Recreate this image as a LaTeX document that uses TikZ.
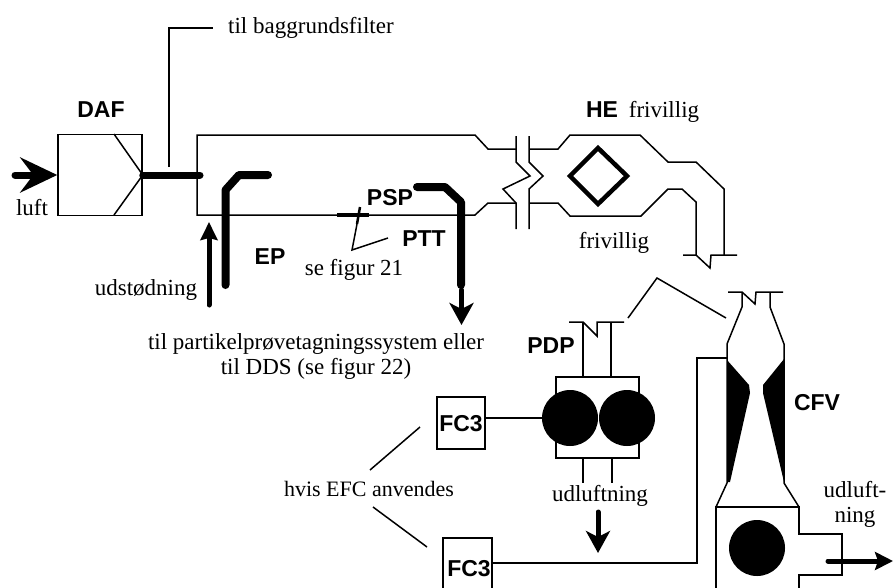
\documentclass[tikz,border=0pt]{standalone}
\usepackage{fontspec}
\setmainfont{Liberation Serif}
\setsansfont{Liberation Sans}
\usepackage{tikz}
\usetikzlibrary{positioning,arrows.meta}
\newcommand{\lbltext}{\fontsize{23}{25}\selectfont}
\newcommand{\lblbold}{\fontsize{23}{25}\selectfont\sffamily\bfseries}

\begin{document}
\begin{tikzpicture}[x=1pt,y=-1pt,
    txt/.style={inner sep=0pt,font=\lbltext},
    tag/.style={inner sep=0pt,font=\lblbold},
    wire/.style={line width=1.5pt},
    box/.style={draw,line width=1.5pt,inner sep=0pt},
    probe/.style={line width=8pt,line cap=round,line join=round},
    rotor/.style={circle,fill=black,inner sep=0pt,minimum size=56pt},
    flow/.style={line width=5pt,line cap=round,-{Stealth[length=22pt,width=24pt,inset=6pt]}}]
    \clip (0,0) rectangle (893,587);
    % dilution air filter
    \node[box,minimum width=84pt,minimum height=81pt] (DAF) at (100,175) {};
    \node[tag] (DAFtag) at (101,110) {DAF};
    \node[txt] (luft) at (32,208) {luft};
    \coordinate (luftstart) at (15,175);
    \coordinate (dafend) at (200,175);
    \coordinate (bagstart) at (169,167);
    \node[txt,anchor=west] (bag) at (228,28) {til baggrundsfilter};
    \draw[wire] (114,134) -- (DAF.east) -- (114,215);
    \draw[line width=7pt,line cap=round,-{Stealth[length=37pt,width=35pt,inset=13pt]}] (luftstart) -- (DAF.west);
    \draw[line width=7pt,line cap=round] (DAF.east) -- (dafend);
    \draw[wire] (bagstart) -- (169,28) -- ([xshift=-15pt]bag.west);
    % tunnel
    \draw[wire] (516,149) -- (488,149) -- (475,135) -- (197,135) -- (197,215) -- (475,215) -- (488,203) -- (516,203);
    \draw[wire] (516,136) -- (516,162) -- (530,176) -- (503,189) -- (516,203) -- (516,229);
    \draw[wire] (529,136) -- (529,162) -- (543,176) -- (529,189) -- (529,229);
    \draw[wire] (529,149) -- (558,149) -- (570,135) -- (640,135) -- (668,162) -- (696,162) -- (724,189) -- (724,255);
    \draw[wire] (529,203) -- (558,203) -- (570,216) -- (641,216) -- (668,189) -- (682,189) -- (696,202) -- (696,255);
    \draw[wire] (683,255) -- (696,255) -- (710,268) -- (711,255) -- (737,255);
    \draw[line width=4.5pt,line join=miter] (598,148) -- (627,176) -- (598,204) -- (570,176) -- cycle;
    \node[tag] (HE) at (602,110) {HE};
    \node[txt] (friv) at (664,112) {frivillig};
    \node[txt] (frivb) at (614,243) {frivillig};
    % probes
    \draw[probe] (225.5,285) -- (225.5,190) -- (239,175) -- (268,175);
    \node[tag] (EP) at (270,257) {EP};
    \node[txt] (udst) at (146,290) {udstødning};
    \coordinate (udstart) at (209,305);
    \coordinate (udend) at (209,222);
    \draw[line width=5pt,line cap=round,-{Stealth[length=18pt,width=17pt,inset=2pt]}] (udstart) -- (udend);
    \draw[probe] (417,187) -- (445,187) -- (461,202) -- (461,285);
    \coordinate (pspend) at (461.5,290);
    \coordinate (psptip) at (461.5,325);
    \draw[flow] (pspend) -- (psptip);
    \node[tag] (PSP) at (390,198) {PSP};
    \node[tag] (PTT) at (424,239) {PTT};
    \draw[line width=3.5pt] (337,215) -- (369,215);
    \draw[line width=2.5pt] (360,207) -- (357,224);
    \draw[wire] (357,224) -- (352,250) -- (388,238);
    \node[txt] (fig21) at (354,270) {se figur 21};
    \node[txt,align=center] (part) at (316,356) {til partikelprøvetagningssystem eller\\til DDS (se figur 22)};
    % positive displacement pump
    \draw[wire] (628,318) -- (657,278) -- (726,318);
    \node[box,minimum width=83pt,minimum height=81pt] (PDP) at (597.5,417.5) {};
    \node[rotor] (rotorl) at (570,418) {};
    \node[rotor] (rotorr) at (627,418) {};
    \node[tag] (PDPtag) at (551,346) {PDP};
    \draw[wire] (569,322) -- (583,322) -- (597,336) -- (597,322) -- (624,322);
    \draw[wire] (583,322) -- (583,377);
    \draw[wire] (611,322) -- (611,377);
    \draw[wire] (583,458) -- (583,483);
    \draw[wire] (612,458) -- (612,483);
    \node[txt] (udl) at (600,496) {udluftning};
    \coordinate (udlstart) at (598,512);
    \coordinate (udltip) at (598,553);
    \draw[flow] (udlstart) -- (udltip);
    \node[box,minimum width=48pt,minimum height=52pt] (FCa) at (461,423) {};
    \node[tag] (FCatag) at (461,424) {FC3};
    \draw[wire] ([yshift=5pt]FCa.east) -- (rotorl.west);
    \node[box,minimum width=49pt,minimum height=60pt] (FCb) at (467.5,568) {};
    \node[tag] (FCbtag) at (469,569) {FC3};
    \coordinate (fcbout) at (492,563);
    \draw[wire] (fcbout) -- (697,563) -- (697,358) -- (727,358);
    \node[txt,font=\fontsize{22}{25}\selectfont] (efc) at (369,489) {hvis EFC anvendes};
    \draw[wire] (370,470) -- (420,427);
    \draw[wire] (373,507) -- (427,547);
    % critical flow venturi
    \draw[wire] (728,292) -- (742,292) -- (755,304) -- (756,292) -- (783,292);
    \draw[wire] (742,292) -- (742,307) -- (727,344) -- (727,483) -- (716,507);
    \draw[wire] (770,292) -- (770,307) -- (784,344) -- (784,483) -- (799,507);
    \fill (727,360) -- (749,385) -- (750,393) -- (730,482) -- (727,482) -- cycle;
    \fill (784,359) -- (763,385) -- (763,393) -- (784,482) -- cycle;
    \node[tag] (CFV) at (817,403) {CFV};
    \draw[wire] (716,600) -- (716,507) -- (799,507) -- (799,534) -- (842,534) -- (842,575) -- (799,575) -- (799,600);
    \node[rotor] (rotorc) at (757,548) {};
    \coordinate (ventstart) at (828,561);
    \coordinate (venttip) at (893,561);
    \draw[line width=5pt,line cap=round,-{Stealth[length=18pt,width=18pt,inset=3pt]}] (ventstart) -- (venttip);
    \node[txt,align=center] (vent) at (855,504) {udluft-\\ning};
\end{tikzpicture}
\end{document}
